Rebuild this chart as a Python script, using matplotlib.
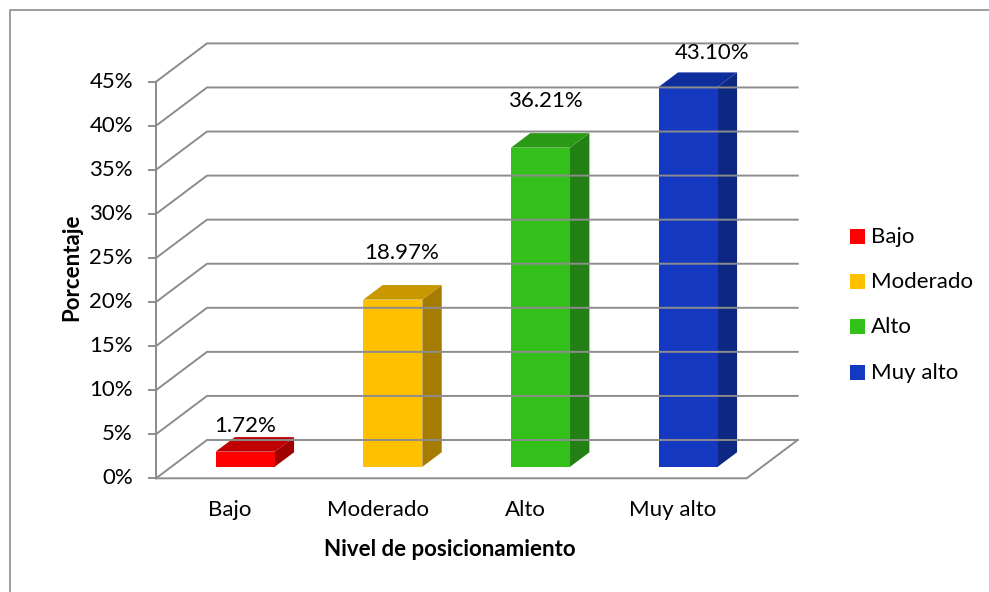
import matplotlib
matplotlib.use("Agg")
import matplotlib.pyplot as plt
from matplotlib.patches import Polygon, Rectangle
from matplotlib.lines import Line2D

plt.rcParams['font.family'] = ['Lato', 'DejaVu Sans']

# data
categorias = ['Bajo', 'Moderado', 'Alto', 'Muy alto']
porcentajes = [1.72, 18.97, 36.21, 43.10]
etiquetas = ['1.72%', '18.97%', '36.21%', '43.10%']
ticks_y = [0, 5, 10, 15, 20, 25, 30, 35, 40, 45]

# colours: front, top, side
c_front = ['#FF0000', '#FFC000', '#33C01A', '#1538C0']
c_top = ['#C00000', '#C99700', '#2A9A16', '#0F2E9E']
c_side = ['#A00000', '#A67C00', '#228015', '#0C2882']

W, H = 989, 592
fs = 16
fig = plt.figure(figsize=(W / 100, H / 100), dpi=100)

# front plane of the plot, in pixels
x0, x1 = 156, 746.7
y0, y45 = 478.3, 81.7
ax = fig.add_axes([x0 / W, (H - y0) / H, (x1 - x0) / W, (y0 - y45) / H])
ax.set_xlim(-0.5, 3.5)
ax.set_ylim(0, 45)
ax.axis('off')

pxx = (x1 - x0) / 4.0          # px per category
pxy = (y0 - y45) / 45.0        # px per percent
DX = 51 / pxx                  # depth offset (x)
DY = 38.3 / pxy                # depth offset (y)

grid_c = '#8C8C8C'
lw = 1.4

# walls / gridlines
for t in ticks_y:
    ax.add_line(Line2D([-0.5, -0.5 + DX, 3.5 + DX], [t, t + DY, t + DY],
                       color=grid_c, lw=lw, clip_on=False))
    ax.add_line(Line2D([-0.5 - 7 / pxx, -0.5], [t, t], color=grid_c, lw=lw, clip_on=False))
    ax.text(-0.5 - 23 / pxx, t, '%d%%' % t, ha='right', va='center', fontsize=fs)

# floor + front axis
ax.add_line(Line2D([-0.5, 3.5, 3.5 + DX], [0, 0, DY], color=grid_c, lw=lw, clip_on=False))
ax.add_line(Line2D([-0.5, -0.5], [0, 45], color=grid_c, lw=lw, clip_on=False))

# bars
bw = 0.40
f0, f1 = 0.30, 0.68
label_dx = [0, 9, 5, 24]      # px
label_dy = [10.6, 32, 32.5, 19]  # px above back top edge
for i, v in enumerate(porcentajes):
    xl = i - bw / 2 + f0 * DX
    xr = i + bw / 2 + f0 * DX
    yb = f0 * DY
    yt = yb + v
    ddx = (f1 - f0) * DX
    ddy = (f1 - f0) * DY
    front = [(xl, yb), (xr, yb), (xr, yt), (xl, yt)]
    top = [(xl, yt), (xr, yt), (xr + ddx, yt + ddy), (xl + ddx, yt + ddy)]
    side = [(xr, yb), (xr + ddx, yb + ddy), (xr + ddx, yt + ddy), (xr, yt)]
    ax.add_patch(Polygon(side, closed=True, fc=c_side[i], ec='none', clip_on=False))
    ax.add_patch(Polygon(top, closed=True, fc=c_top[i], ec='none', clip_on=False))
    ax.add_patch(Polygon(front, closed=True, fc=c_front[i], ec='none', clip_on=False))
    ax.text(i + f0 * DX + label_dx[i] / pxx, yt + ddy + label_dy[i] / pxy, etiquetas[i],
            ha='center', va='center', fontsize=fs)
    # category labels
    ax.text(i, -32 / pxy, categorias[i], ha='center', va='center', fontsize=fs)

ax.text(1.5 + (450 - (x0 + 2 * pxx)) / pxx, -71 / pxy, 'Nivel de posicionamiento',
        ha='center', va='center', fontsize=fs, fontweight='bold')
fig.text(71.7 / W, 1 - 267 / H, 'Porcentaje', rotation=90, ha='center', va='center',
         fontsize=fs, fontweight='bold')

# legend
leg_y = [236.7, 281.7, 326.7, 372.7]
for i, nombre in enumerate(categorias):
    fig.patches.append(Rectangle((850 / W, 1 - (leg_y[i] + 7.5) / H), 15 / W, 15 / H,
                                 transform=fig.transFigure, fc=c_front[i], ec='none'))
    fig.text(871 / W, 1 - leg_y[i] / H, nombre, ha='left', va='center', fontsize=fs)

# chart border (left and top only visible)
fig.add_artist(Line2D([10 / W, 10 / W, 1.01], [-0.01, 1 - 10 / H, 1 - 10 / H],
                      transform=fig.transFigure, color='#8C8C8C', lw=1.2))

fig.savefig('out.png', dpi=100, facecolor='white')
